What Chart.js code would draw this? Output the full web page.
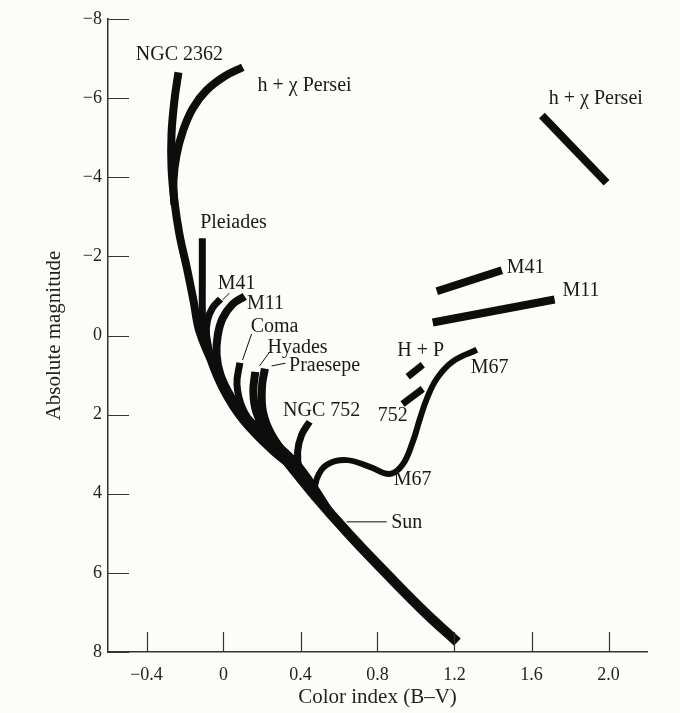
<!DOCTYPE html>
<html>
<head>
<meta charset="utf-8">
<script src="https://cdn.jsdelivr.net/npm/chart.js@4.4.1/dist/chart.umd.min.js"></script>
<style>
  html, body { margin: 0; padding: 0; background: #fcfcf8; }
  #wrap { width: 680px; height: 713px; position: relative; }
</style>
</head>
<body>
<div id="wrap"><canvas id="hr"></canvas></div>
<script>
// tick values and labels
const X_TICKS = [-0.4, 0, 0.4, 0.8, 1.2, 1.6, 2.0];
const X_TICK_LABELS = ['\u22120.4', '0', '0.4', '0.8', '1.2', '1.6', '2.0'];
const Y_TICKS = [-8, -6, -4, -2, 0, 2, 4, 6, 8];
const Y_TICK_LABELS = ['\u22128', '\u22126', '\u22124', '\u22122', '0', '2', '4', '6', '8'];

// cluster sequences, [B-V, Mv]
const ZAMS = [[0.3, 3.0], [0.463, 3.98], [0.655, 5.04], [0.863, 6.1], [1.045, 6.99], [1.215, 7.75]];
const NGC_2362 = [[-0.234, -6.65], [-0.255, -5.94], [-0.27, -5.1], [-0.27, -4.24], [-0.255, -3.4], [-0.229, -2.56],
  [-0.19, -1.7], [-0.155, -0.86], [-0.125, -0.1], [-0.05, 0.77], [0.068, 1.8], [0.24, 2.6], [0.39, 3.3], [0.557, 4.5]];
const H_CHI_PER = [[0.10, -6.78], [0.005, -6.55], [-0.09, -6.19], [-0.16, -5.74], [-0.21, -5.18], [-0.245, -4.54],
  [-0.26, -3.9], [-0.255, -3.3]];
const PLEIADES = [[-0.11, -2.46], [-0.11, -1.4], [-0.11, -0.7], [-0.105, -0.1], [-0.07, 0.6], [0.0, 1.4],
  [0.1, 2.15], [0.26, 2.95], [0.41, 3.55], [0.557, 4.5]];
const M41 = [[-0.016, -0.92], [-0.057, -0.7], [-0.083, -0.39], [-0.088, 0], [-0.06, 0.6], [0.01, 1.35],
  [0.12, 2.1], [0.26, 2.85], [0.41, 3.5], [0.557, 4.5]];
const M11 = [[0.11, -0.99], [0.047, -0.79], [-0.005, -0.43], [-0.03, 0], [-0.036, 0.48], [-0.016, 0.99],
  [0.04, 1.55], [0.135, 2.18], [0.265, 2.87], [0.4, 3.45], [0.557, 4.5]];
const COMA = [[0.085, 0.69], [0.07, 1.24], [0.1, 1.85], [0.17, 2.36], [0.29, 3.02], [0.41, 3.55], [0.557, 4.5]];
const HYADES = [[0.165, 0.92], [0.155, 1.42], [0.17, 1.93], [0.225, 2.51], [0.32, 3.12], [0.43, 3.65], [0.557, 4.5]];
const PRAESEPE = [[0.215, 0.84], [0.2, 1.29], [0.205, 1.93], [0.25, 2.51], [0.34, 3.12], [0.44, 3.65], [0.557, 4.5]];
const NGC_752 = [[0.447, 2.18], [0.406, 2.51], [0.385, 2.94], [0.395, 3.4], [0.44, 3.85], [0.557, 4.5]];
const M67 = [[0.47, 4.15], [0.484, 3.63], [0.536, 3.27], [0.64, 3.15], [0.76, 3.32], [0.863, 3.5], [0.93, 3.27],
  [0.983, 2.69], [1.02, 2.11], [1.056, 1.6], [1.108, 1.09], [1.19, 0.66], [1.316, 0.36]];

// giant branches
const HP_GIANTS = [[0.957, 1.04], [1.035, 0.74]];
const N752_GIANTS = [[0.93, 1.73], [1.035, 1.35]];
const M41_GIANTS = [[1.108, -1.12], [1.446, -1.65]];
const M11_GIANTS = [[1.087, -0.33], [1.72, -0.91]];
const HCHI_GIANTS = [[1.654, -5.56], [1.99, -3.86]];

// leader lines for labels
const LEAD_M41 = [[-0.005, -0.9], [0.031, -1.07]];
const LEAD_COMA = [[0.099, 0.62], [0.146, -0.04]];
const LEAD_HYADES = [[0.187, 0.77], [0.239, 0.42]];
const LEAD_PRAESEPE = [[0.25, 0.77], [0.322, 0.7]];
const LEAD_SUN = [[0.64, 4.71], [0.848, 4.71]];

// text labels: [text, B-V, Mv]
const LABELS = [
  ['NGC 2362', -0.229, -7.09],
  ['h + \u03c7 Persei', 0.421, -6.31],
  ['h + \u03c7 Persei', 1.934, -5.98],
  ['Pleiades', 0.052, -2.84],
  ['M41', 0.068, -1.30],
  ['M11', 0.218, -0.80],
  ['Coma', 0.265, -0.21],
  ['Hyades', 0.385, 0.32],
  ['Praesepe', 0.525, 0.77],
  ['NGC 752', 0.51, 1.91],
  ['752', 0.879, 2.03],
  ['H + P', 1.024, 0.39],
  ['M67', 1.383, 0.82],
  ['M67', 0.983, 3.65],
  ['Sun', 0.952, 4.74],
  ['M41', 1.57, -1.71],
  ['M11', 1.857, -1.12]
];

const INK = '#0d0d0d';
const SERIF = '"Liberation Serif", "DejaVu Serif", serif';

function pts(arr) {
  return arr.map(p => ({ x: p[0], y: p[1] }));
}

function line(arr, width, tension) {
  return {
    data: pts(arr),
    showLine: true,
    borderColor: INK,
    borderWidth: width,
    borderCapStyle: 'butt',
    borderJoinStyle: 'round',
    tension: tension === undefined ? 0.4 : tension,
    pointRadius: 0,
    fill: false
  };
}

const overlay = {
  id: 'overlay',
  afterDraw(chart) {
    const ctx = chart.ctx;
    const a = chart.chartArea;
    const x = chart.scales.x, y = chart.scales.y;
    ctx.save();
    // inward tick marks
    ctx.strokeStyle = '#333';
    ctx.lineWidth = 1.2;
    ctx.beginPath();
    Y_TICKS.forEach(v => {
      const py = Math.round(y.getPixelForValue(v)) + 0.5;
      ctx.moveTo(a.left, py);
      ctx.lineTo(a.left + 21, py);
    });
    X_TICKS.forEach(v => {
      const px = Math.round(x.getPixelForValue(v)) + 0.5;
      ctx.moveTo(px, a.bottom);
      ctx.lineTo(px, a.bottom - 20);
    });
    ctx.stroke();
    // cluster names
    ctx.font = '20px ' + SERIF;
    ctx.fillStyle = '#1a1a1a';
    ctx.textAlign = 'center';
    ctx.textBaseline = 'middle';
    LABELS.forEach(l => {
      ctx.fillText(l[0], x.getPixelForValue(l[1]), y.getPixelForValue(l[2]));
    });
    ctx.restore();
  }
};

new Chart(document.getElementById('hr'), {
  type: 'scatter',
  data: {
    datasets: [
      line(ZAMS, 10),
      line(NGC_2362, 8),
      line(H_CHI_PER, 8),
      line(PLEIADES, 7),
      line(M41, 7),
      line(M11, 8),
      line(COMA, 7),
      line(HYADES, 8),
      line(PRAESEPE, 8),
      line(NGC_752, 7),
      line(M67, 6),
      line(HP_GIANTS, 7, 0),
      line(N752_GIANTS, 7, 0),
      line(M41_GIANTS, 8, 0),
      line(M11_GIANTS, 8, 0),
      line(HCHI_GIANTS, 8, 0),
      line(LEAD_M41, 1, 0),
      line(LEAD_COMA, 1, 0),
      line(LEAD_HYADES, 1, 0),
      line(LEAD_PRAESEPE, 1, 0),
      line(LEAD_SUN, 1, 0)
    ]
  },
  options: {
    responsive: true,
    maintainAspectRatio: false,
    animation: false,
    layout: { padding: { top: 19, right: 33, left: 0, bottom: 0 } },
    plugins: { legend: { display: false }, tooltip: { enabled: false } },
    scales: {
      x: {
        type: 'linear',
        min: -0.6,
        max: 2.2,
        bounds: 'data',
        afterBuildTicks: s => { s.ticks = X_TICKS.map(v => ({ value: v })); },
        afterFit: s => { s.height = 61; },
        grid: { display: false, drawTicks: false },
        border: { display: true, color: '#333', width: 1.5 },
        ticks: {
          padding: 12,
          color: '#222',
          font: { family: SERIF, size: 18 },
          maxRotation: 0,
          callback: v => X_TICK_LABELS[X_TICKS.indexOf(v)]
        },
        title: {
          display: true,
          text: 'Color index (B\u2013V)',
          color: '#222',
          font: { family: SERIF, size: 21 },
          padding: { top: 0, bottom: 3 }
        }
      },
      y: {
        type: 'linear',
        min: -8,
        max: 8,
        reverse: true,
        bounds: 'data',
        afterBuildTicks: s => { s.ticks = Y_TICKS.map(v => ({ value: v })); },
        afterFit: s => { s.width = 108; },
        grid: { display: false, drawTicks: false },
        border: { display: true, color: '#333', width: 1.5 },
        ticks: {
          padding: 6,
          color: '#222',
          font: { family: SERIF, size: 18 },
          callback: v => Y_TICK_LABELS[Y_TICKS.indexOf(v)]
        },
        title: {
          display: true,
          text: 'Absolute magnitude',
          color: '#222',
          font: { family: SERIF, size: 21 },
          padding: { top: 42, bottom: 0 }
        }
      }
    }
  },
  plugins: [overlay]
});
</script>
</body>
</html>
